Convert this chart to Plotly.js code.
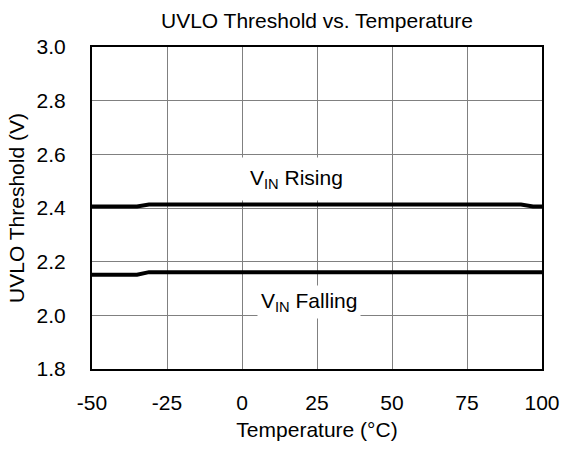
<!DOCTYPE html>
<html>
<head>
<meta charset="utf-8">
<script src="https://cdn.plot.ly/plotly-3.0.1.min.js"></script>
<style>html,body{margin:0;padding:0;background:#fff;}#chart{width:561px;height:450px;}</style>
</head>
<body>
<div id="chart"></div>
<script>
const tempRising = [-50, -35, -31, 0, 50, 93, 97, 100];
const vinRising = [2.406, 2.406, 2.413, 2.413, 2.413, 2.413, 2.406, 2.406];
const tempFalling = [-50, -35, -31, 0, 50, 100];
const vinFalling = [2.151, 2.151, 2.161, 2.161, 2.161, 2.161];
const xTicks = [-50, -25, 0, 25, 50, 75, 100];
const yTicks = [1.8, 2.0, 2.2, 2.4, 2.6, 2.8, 3.0];

const FF = 'Liberation Sans, Arial, sans-serif';
const FS = 21;
const f = {family: FF, size: FS, color: '#000'};

const traces = [
  {x: tempRising, y: vinRising, mode: 'lines', line: {color: '#000', width: 4}, name: 'VIN Rising', hoverinfo: 'skip'},
  {x: tempFalling, y: vinFalling, mode: 'lines', line: {color: '#000', width: 4}, name: 'VIN Falling', hoverinfo: 'skip'}
];

const layout = {
  width: 561, height: 450,
  margin: {l: 92, r: 19, t: 47, b: 81},
  paper_bgcolor: '#fff', plot_bgcolor: '#fff',
  showlegend: false,
  font: f,
  title: {text: 'UVLO Threshold vs. Temperature', font: f, x: 0.5, xref: 'paper', xanchor: 'center', y: 1 - 21/450, yref: 'container', yanchor: 'middle'},
  xaxis: {
    range: [-50, 100], tickvals: xTicks, ticktext: xTicks.map(String),
    showgrid: true, gridcolor: '#808080', gridwidth: 1,
    zeroline: false, showline: true, linecolor: '#000', linewidth: 2, mirror: true,
    ticks: '', ticklabelstandoff: 14,
    tickfont: f,
    title: {text: 'Temperature (°C)', font: f, standoff: 9}
  },
  yaxis: {
    range: [1.8, 3.0], tickvals: yTicks, ticktext: yTicks.map(v => v.toFixed(1)),
    showgrid: true, gridcolor: '#808080', gridwidth: 1,
    zeroline: false, showline: true, linecolor: '#000', linewidth: 2, mirror: true,
    ticks: '', ticklabelstandoff: 20,
    tickfont: f,
    title: {text: 'UVLO Threshold (V)', font: f, standoff: 6}
  },
  annotations: [
    {x: 18.3, y: 2.508, xref: 'x', yref: 'y', text: 'V<sub>IN</sub> Rising', showarrow: false,
     font: f, bgcolor: '#fff', borderpad: 8},
    {x: 22.4, y: 2.048, xref: 'x', yref: 'y', text: 'V<sub>IN</sub> Falling', showarrow: false,
     font: f, bgcolor: '#fff', borderpad: 3}
  ]
};

Plotly.newPlot('chart', traces, layout, {displayModeBar: false, staticPlot: true});
</script>
</body>
</html>
